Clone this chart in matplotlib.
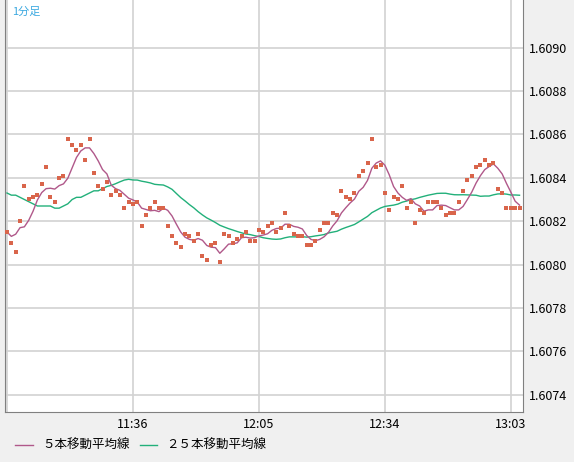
import matplotlib
matplotlib.use("Agg")
import matplotlib.pyplot as plt
import numpy as np

plt.rcParams['font.family'] = ['Noto Sans CJK JP', 'DejaVu Sans']

start_label = "11:07"
tick_labels = ["11:36", "12:05", "12:34", "13:03"]
prices = [
    1.60815,1.60810,1.60806,1.60820,1.60836,1.60830,1.60831,1.60832,1.60837,1.60845,
    1.60831,1.60829,1.60840,1.60841,1.60858,1.60855,1.60853,1.60855,1.60848,1.60858,
    1.60842,1.60836,1.60835,1.60838,1.60832,1.60834,1.60832,1.60826,1.60829,1.60828,
    1.60829,1.60818,1.60823,1.60826,1.60829,1.60826,1.60826,1.60818,1.60813,1.60810,
    1.60808,1.60814,1.60813,1.60811,1.60814,1.60804,1.60802,1.60809,1.60810,1.60801,
    1.60814,1.60813,1.60810,1.60812,1.60813,1.60815,1.60811,1.60811,1.60816,1.60815,
    1.60818,1.60819,1.60815,1.60817,1.60824,1.60818,1.60814,1.60813,1.60813,1.60809,
    1.60809,1.60811,1.60816,1.60819,1.60819,1.60824,1.60823,1.60834,1.60831,1.60830,
    1.60833,1.60841,1.60843,1.60847,1.60858,1.60845,1.60846,1.60833,1.60825,1.60831,
    1.60830,1.60836,1.60826,1.60829,1.60819,1.60825,1.60824,1.60829,1.60829,1.60829,
    1.60826,1.60823,1.60824,1.60824,1.60829,1.60834,1.60839,1.60841,1.60845,1.60846,
    1.60848,1.60846,1.60847,1.60835,1.60833,1.60826,1.60826,1.60826,1.60826,
]
# moving-average values at the left edge (prior data not visible)
ma5_head = [1.60815, 1.60813, 1.60814, 1.60817]
ma25_head = [1.60833,1.60832,1.60832,1.60831,1.60830,1.60829,1.60828,1.60827,1.60827,1.60827,
             1.60827,1.60826,1.60826,1.60827,1.60828,1.60830,1.60831,1.60831,1.60832,1.60833,
             1.60834,1.60834,1.60835,1.60836]

p = np.array(prices)
n = len(p)
x = np.arange(n)
def trailing(vals, w, head):
    out = list(head)
    for i in range(len(head), len(vals)):
        out.append(vals[i-w+1:i+1].mean())
    return np.array(out)
ma5 = trailing(p, 5, ma5_head)
ma25 = trailing(p, 25, ma25_head)

fig = plt.figure(figsize=(5.74, 4.62), dpi=100, facecolor='#f0f0f0')
ax = fig.add_axes([5/574, 50/462, 518/574, 412/462])
ax.set_facecolor('white')
ax.plot(x, ma25, color='#22b07a', lw=1.0, zorder=2)
ax.plot(x, ma5, color='#b0588a', lw=1.0, zorder=3)
ax.scatter(x, p, marker='s', s=7, color='#d9654b', lw=0, zorder=4)

ax.set_xlim(-0.46, 118.8)
ax.set_ylim(1.60732, 1.60922)
ax.set_xticks([0, 29, 58, 87, 116])
ax.set_xticklabels([""] + tick_labels, fontsize=9)
yt = np.round(np.arange(1.6074, 1.6091, 0.0002), 4)
ax.set_yticks(yt)
ax.set_yticklabels([f"{v:.4f}" for v in yt], fontsize=9)
ax.yaxis.tick_right()
ax.tick_params(length=0, pad=4, colors='#000000')
ax.tick_params(axis='x', pad=4)
ax.grid(True, color='#d2d2d2', lw=1.2)
ax.set_axisbelow(True)
for s in ax.spines.values():
    s.set_color('#808080')
ax.spines['top'].set_visible(False)

fig.text(12/574, 1-12/462, "1分足", color='#3aa8e0', fontsize=8, va='center')

ly = 1 - 445/462
fig.add_artist(plt.Line2D([15/574, 33/574], [ly, ly], color='#b0588a', lw=1))
fig.text(42/574, ly, "５本移動平均線", fontsize=9, va='center')
fig.add_artist(plt.Line2D([140/574, 157/574], [ly, ly], color='#22b07a', lw=1))
fig.text(166/574, ly, "２５本移動平均線", fontsize=9, va='center')

fig.savefig("out.png", dpi=100, facecolor=fig.get_facecolor())
